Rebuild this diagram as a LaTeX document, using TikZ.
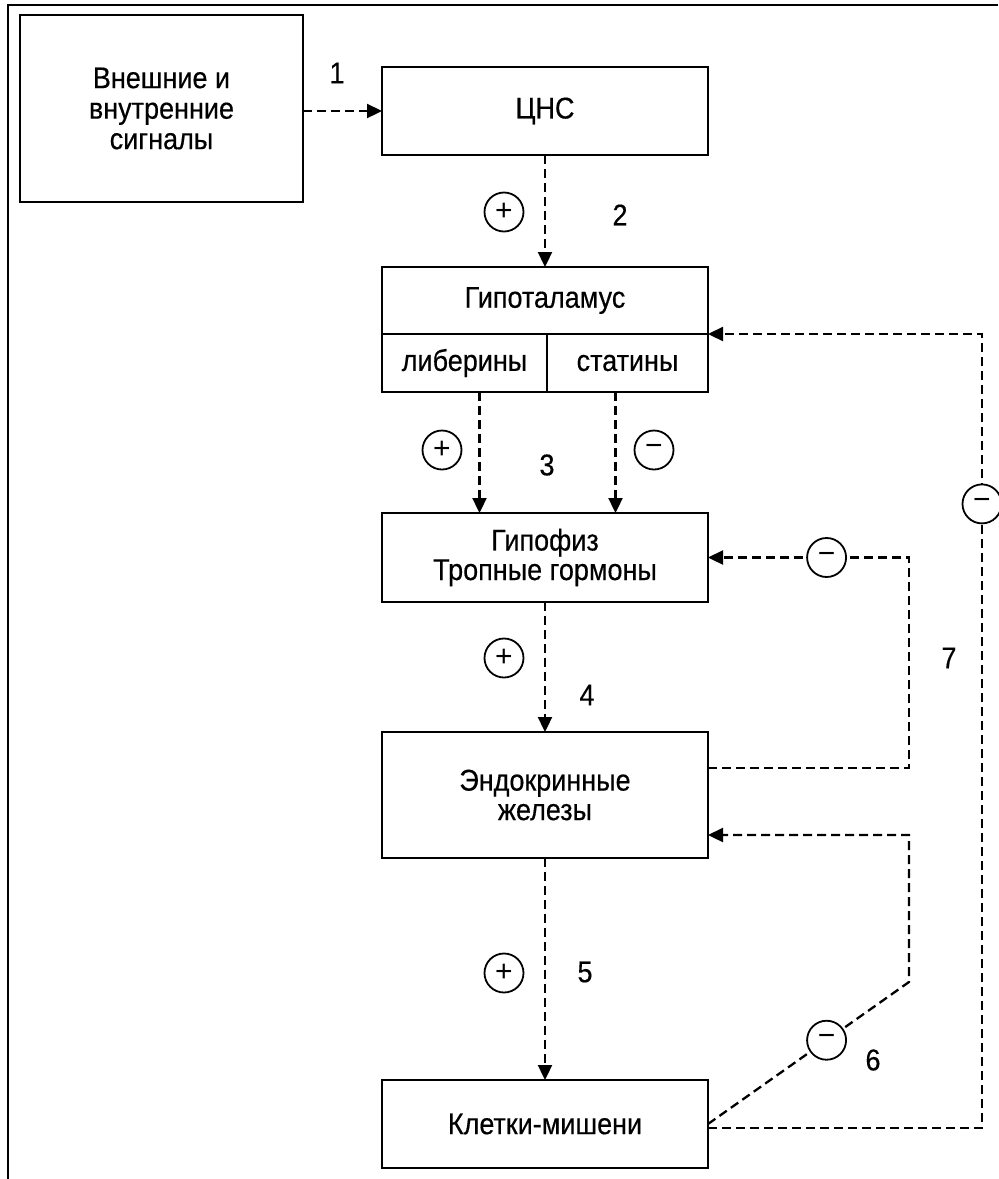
\documentclass[tikz,border=0pt]{standalone}
\usepackage{fontspec}
\setmainfont[FakeStretch=0.9,FakeBold=0.4]{Liberation Sans}
\newfontfamily\signfont{Liberation Sans}
\usetikzlibrary{arrows.meta}

\begin{document}
\begin{tikzpicture}[
   x=0.5pt,y=-0.5pt,
   font={\fontsize{15}{14.75}\selectfont\lineskiplimit=-20pt},
   box/.style={draw,line width=1.2pt,inner sep=0pt,outer sep=0pt,align=center},
   to/.style={-{Triangle[length=7.5pt,width=7pt]},line width=1.15pt,dash pattern=on 4.5pt off 2.5pt},
   sign/.style={draw,circle,solid,line width=0.9pt,fill=white,minimum size=19.5pt,inner sep=0pt,font=\signfont\fontsize{15}{15}\selectfont},
   num/.style={inner sep=0pt}]
\useasboundingbox (0,0) rectangle (998,1179);
\draw[line width=1.3pt] (998,5) -- (8,5) -- (8,1179);
\node[box,minimum width=141.5pt,minimum height=93.5pt,font={\fontsize{15}{15.25}\selectfont\lineskiplimit=-20pt}] (sig) at (161.5,108.5) {Внешние и\\внутренние\\сигналы};
\node[box,minimum width=163pt,minimum height=44pt] (cns) at (545,111) {ЦНС};
\node[box,minimum width=163pt,minimum height=33.5pt] (hyp) at (545,300.5) {Гипоталамус};
\node[box,minimum width=82.5pt,minimum height=29pt] (lib) at (464.5,363) {либерины};
\node[box,minimum width=80.5pt,minimum height=29pt] (stat) at (627.5,363) {статины};
\node[box,minimum width=163pt,minimum height=44.5pt] (pit) at (545,557.5) {Гипофиз\\Тропные гормоны};
\node[box,minimum width=163pt,minimum height=63pt] (endo) at (545,795) {Эндокринные\\железы};
\node[box,minimum width=163pt,minimum height=44pt] (cells) at (545,1124) {Клетки-мишени};
\coordinate (smallx) at (909,0);
\coordinate (bigx) at (982,0);
\coordinate (kink) at (909,982);
\node[sign] (p2) at (504,212) {+};
\node[sign] (p3) at (442,450) {+};
\node[sign] (m3) at (654,450) {−};
\node[sign] (p4) at (504,658) {+};
\node[sign] (p5) at (504,973) {+};
\node[num] (n1) at (337,73) {1};
\node[num] (n2) at (620,215) {2};
\node[num] (n3) at (547,465) {3};
\node[num] (n4) at (587,695) {4};
\node[num] (n5) at (585,972) {5};
\node[num] (n6) at (873,1060) {6};
\node[num] (n7) at (949,658) {7};
\draw[to] (sig.east |- cns.west) -- (cns.west);
\draw[to] (cns.south) -- (hyp.north);
\draw[to] ([xshift=7.5pt]lib.south) -- ([xshift=7.5pt]lib.south |- pit.north);
\draw[to] ([xshift=-6pt]stat.south) -- ([xshift=-6pt]stat.south |- pit.north);
\draw[to] (pit.south) -- (endo.north);
\draw[to] (endo.south) -- (cells.north);
\draw[to] ([yshift=13.5pt]endo.east) -| (smallx |- pit.east) -- node[sign,pos=0.41] {−} (pit.east);
\draw[to] (cells.east) -- node[sign,pos=0.59] {−} (kink) |- ([yshift=-20pt]endo.east);
\draw[to] ([yshift=-2pt]cells.east) -| (bigx |- hyp.south east) node[sign,pos=0.893] {−} -- (hyp.south east);
\end{tikzpicture}
\end{document}
